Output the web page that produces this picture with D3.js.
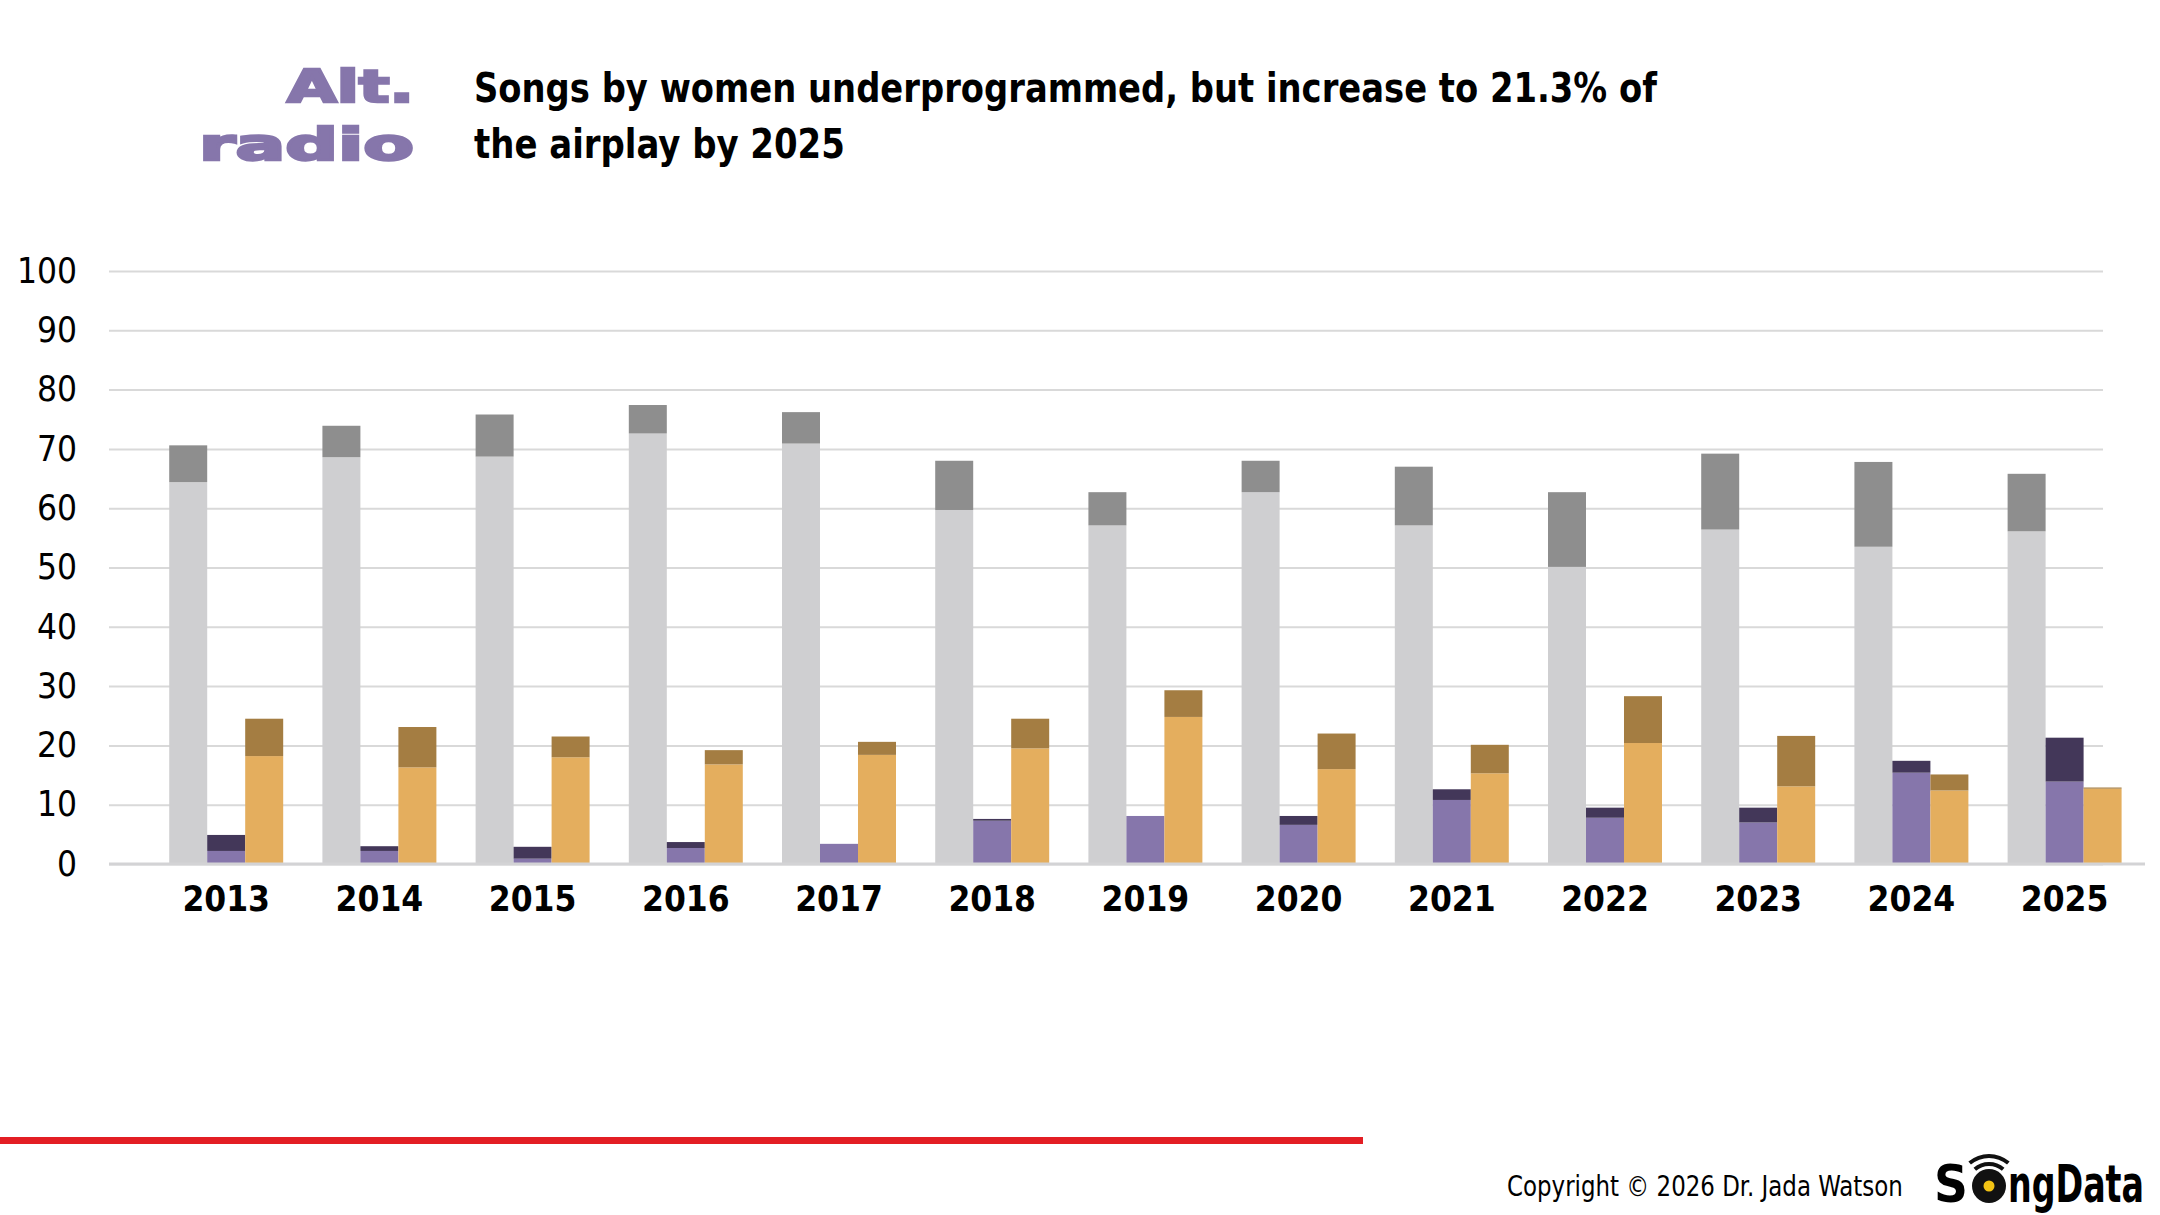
<!DOCTYPE html>
<html>
<head>
<meta charset="utf-8">
<script src="https://cdn.jsdelivr.net/npm/d3@7"></script>
<style>
  html, body { margin: 0; padding: 0; background: #ffffff; }
  svg { display: block; }
</style>
</head>
<body>
<svg id="chart" width="2160" height="1215"></svg>
<script>
// values (percent of airplay)
const years = ['2013','2014','2015','2016','2017','2018','2019','2020','2021','2022','2023','2024','2025'];
const menBase    = [64.4, 68.6, 68.7, 72.6, 70.9, 59.7, 57.1, 62.7, 57.1, 50.1, 56.4, 53.5, 56.1];
const menTotal   = [70.6, 73.9, 75.8, 77.4, 76.2, 68.0, 62.7, 68.0, 67.0, 62.7, 69.2, 67.8, 65.8];
const womenBase  = [2.2, 2.2, 0.9, 2.7, 3.4, 7.3, 8.1, 6.6, 10.8, 7.8, 7.0, 15.4, 13.9];
const womenTotal = [4.9, 3.0, 2.9, 3.7, 3.4, 7.6, 8.1, 8.1, 12.6, 9.5, 9.5, 17.4, 21.3];
const mixedBase  = [18.2, 16.3, 18.0, 16.8, 18.4, 19.5, 24.8, 16.0, 15.3, 20.4, 13.1, 12.4, 12.7];
const mixedTotal = [24.5, 23.1, 21.5, 19.2, 20.6, 24.5, 29.3, 22.0, 20.1, 28.3, 21.6, 15.1, 12.9];
const yTicks = [0, 10, 20, 30, 40, 50, 60, 70, 80, 90, 100];

const groups = ['men', 'women', 'mixed'];
const baseColor = { men: '#cfcfd1', women: '#8676ab', mixed: '#e4ae5e' };
const topColor  = { men: '#8e8e8e', women: '#433759', mixed: '#a47d42' };

const rows = years.map((yr, i) => ({
  year: yr,
  men:   [menBase[i], menTotal[i]],
  women: [womenBase[i], womenTotal[i]],
  mixed: [mixedBase[i], mixedTotal[i]]
}));

const svg = d3.select('#chart');
const condensed = "'DejaVu Sans Condensed', 'DejaVu Sans', sans-serif";

// squeeze/stretch a text horizontally so its real width is w
function fitX(sel, w) {
  const len = sel.node().getComputedTextLength();
  sel.attr('transform', `scale(${w / len},1)`);
  return sel;
}

// header
const brand = svg.append('g').attr('transform', 'translate(414,0)');
[['Alt.', 102, 127], ['radio', 160, 215]].forEach(([t, yy, w]) => {
  const s = brand.append('text')
    .attr('x', 0).attr('y', yy)
    .attr('text-anchor', 'end')
    .attr('font-family', "'DejaVu Sans', sans-serif")
    .attr('font-weight', 'bold')
    .attr('font-size', 44)
    .attr('fill', '#8676ab')
    .attr('stroke', '#8676ab').attr('stroke-width', 2.5)
    .text(t);
  fitX(s, w);
});

const titleLines = ['Songs by women underprogrammed, but increase to 21.3% of', 'the airplay by 2025'];
const titleWidths = [1183, 371];
const titleG = svg.append('g').attr('transform', 'translate(474,0)');
titleLines.forEach((t, i) => {
  const s = titleG.append('text')
    .attr('x', 0).attr('y', 102 + i * 56)
    .attr('font-family', condensed)
    .attr('font-weight', 'bold')
    .attr('font-size', 40)
    .attr('fill', '#000')
    .text(t);
  fitX(s, titleWidths[i]);
});

// scales
const x = d3.scaleBand().domain(years).range([149.6, 2141.2]).paddingInner(0.256).paddingOuter(0.128);
const xs = d3.scaleBand().domain(groups).range([0, x.bandwidth()]);
const y = d3.scaleLinear().domain([0, 100]).range([864, 271]);

// gridlines + y labels
const yAxis = svg.append('g')
  .attr('transform', 'translate(109,0)')
  .call(d3.axisLeft(y).tickValues(yTicks).tickSize(-(2103 - 109)).tickPadding(32));
yAxis.select('.domain').remove();
yAxis.selectAll('.tick line').attr('stroke', '#d9d9d9').attr('stroke-width', 2);
yAxis.selectAll('.tick text')
  .attr('font-family', condensed)
  .attr('font-size', 35)
  .attr('fill', '#000');

// bars
const g = svg.append('g');
const yearG = g.selectAll('.year')
  .data(rows)
  .join('g')
  .attr('class', 'year')
  .attr('transform', d => `translate(${x(d.year)},0)`);

groups.forEach(k => {
  yearG.append('rect')
    .attr('x', xs(k))
    .attr('width', xs.bandwidth())
    .attr('y', d => y(d[k][0]))
    .attr('height', d => y(0) - y(d[k][0]))
    .attr('fill', baseColor[k]);
  yearG.append('rect')
    .attr('x', xs(k))
    .attr('width', xs.bandwidth())
    .attr('y', d => y(d[k][1]))
    .attr('height', d => Math.max(0, y(d[k][0]) - y(d[k][1])))
    .attr('fill', topColor[k]);
});

// baseline
svg.append('line')
  .attr('x1', 109).attr('x2', 2145)
  .attr('y1', y(0)).attr('y2', y(0))
  .attr('stroke', '#d3d3d5').attr('stroke-width', 3);

// x labels
const xAxis = svg.append('g')
  .attr('transform', `translate(0,${y(0)})`)
  .call(d3.axisBottom(x).tickSize(0).tickPadding(22));
xAxis.select('.domain').remove();
xAxis.selectAll('.tick text')
  .attr('font-family', condensed)
  .attr('font-weight', 'bold')
  .attr('font-size', 35)
  .attr('fill', '#000');

// red rule
svg.append('rect')
  .attr('x', 0).attr('y', 1137)
  .attr('width', 1363).attr('height', 7)
  .attr('fill', '#e31e24');

// footer
const copyG = svg.append('g').attr('transform', 'translate(1507,1196)');
fitX(copyG.append('text')
  .attr('x', 0).attr('y', 0)
  .attr('font-family', condensed)
  .attr('font-size', 29)
  .attr('fill', '#000')
  .text('Copyright © 2026 Dr. Jada Watson'), 396);

const logo = svg.append('g').attr('transform', 'translate(1934,1202)');
fitX(logo.append('text')
  .attr('x', 0).attr('y', 0)
  .attr('font-family', condensed)
  .attr('font-weight', 'bold')
  .attr('font-size', 52)
  .attr('fill', '#000')
  .text('S'), 34);
logo.append('circle').attr('cx', 55).attr('cy', -16).attr('r', 17).attr('fill', '#111');
logo.append('circle').attr('cx', 55).attr('cy', -16).attr('r', 5.5).attr('fill', '#f2c314');
[23, 31].forEach(r => {
  logo.append('path')
    .attr('d', d3.arc().innerRadius(r - 3).outerRadius(r + 1).startAngle(-0.7).endAngle(0.7)())
    .attr('transform', 'translate(55,-16)')
    .attr('fill', '#111');
});
const ngG = logo.append('g').attr('transform', 'translate(74,0)');
fitX(ngG.append('text')
  .attr('x', 0).attr('y', 0)
  .attr('font-family', condensed)
  .attr('font-weight', 'bold')
  .attr('font-size', 52)
  .attr('fill', '#000')
  .text('ngData'), 136);
</script>
</body>
</html>
